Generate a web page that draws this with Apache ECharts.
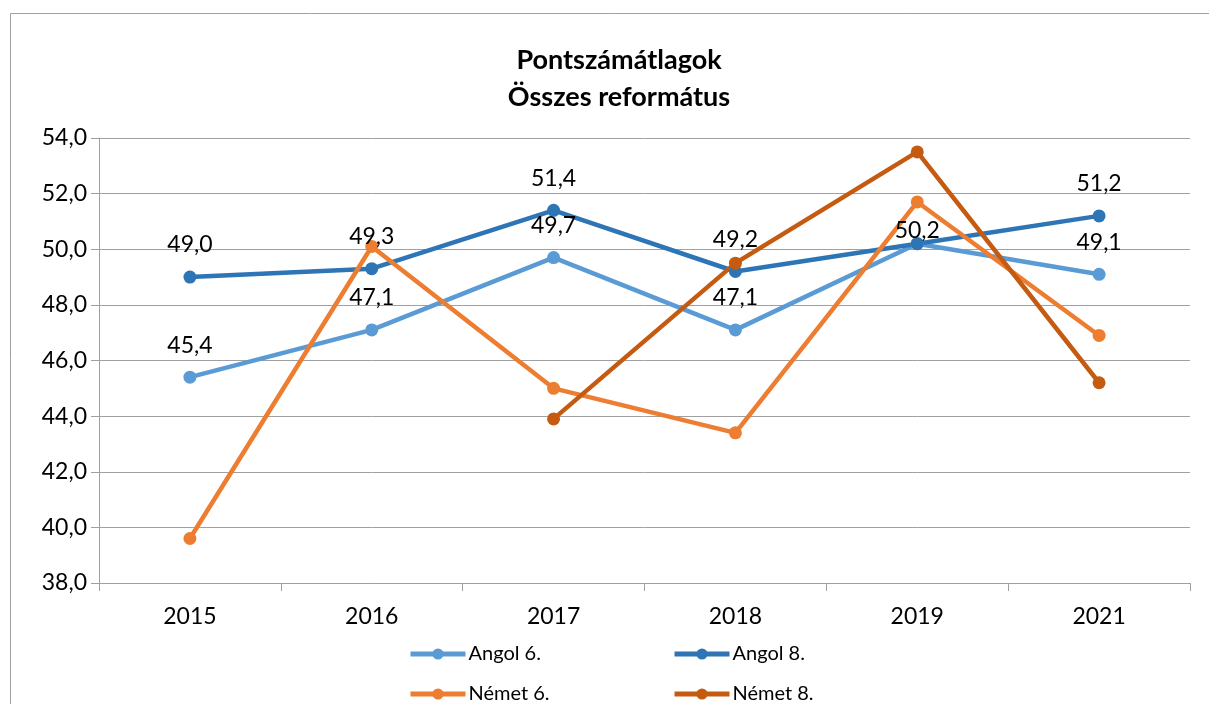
<!DOCTYPE html>
<html>
<head>
<meta charset="utf-8">
<script src="https://cdn.jsdelivr.net/npm/echarts@6/dist/echarts.min.js"></script>
<style>
  html, body { margin: 0; padding: 0; background: #fff; }
  #chart { width: 1209px; height: 704px; }
</style>
</head>
<body>
<div id="chart"></div>
<script>
// évek
var years = ['2015', '2016', '2017', '2018', '2019', '2021'];
// sorozatok
var angol6 = [45.4, 47.1, 49.7, 47.1, 50.2, 49.1];
var angol8 = [49.0, 49.3, 51.4, 49.2, 50.2, 51.2];
var nemet6 = [39.6, 50.1, 45.0, 43.4, 51.7, 46.9];
var nemet8 = ['-', '-', 43.9, 49.5, 53.5, 45.2];
var yTicks = [38, 40, 42, 44, 46, 48, 50, 52, 54];

var fontName = 'Lato, "Open Sans", sans-serif';

function fmt (v) {
  return Number(v).toFixed(1).replace('.', ',');
}

// adatcímkék: 2019-es pontnál csak egy felirat, lejjebb tolva
function labeled (values, hideIdx, shiftIdx) {
  return values.map(function (v, i) {
    if (i === hideIdx) return { value: v, label: { show: false } };
    if (i === shiftIdx) return { value: v, label: { offset: [0, 19] } };
    return v;
  });
}

function lineSeries (name, color, data, showLabel) {
  return {
    name: name,
    type: 'line',
    data: data,
    symbol: 'circle',
    symbolSize: 13,
    itemStyle: { color: color },
    lineStyle: { color: color, width: 4.5 },
    label: {
      show: showLabel,
      position: 'top',
      distance: 14,
      fontFamily: fontName,
      fontSize: 23,
      color: '#000',
      formatter: function (p) { return fmt(p.value); }
    },
    emphasis: { disabled: true },
    animation: false
  };
}

// jelmagyarázat elemenként, két sorban
function legendItem (name, left, top) {
  return {
    data: [name],
    left: left,
    top: top,
    padding: 0,
    itemWidth: 55,
    itemHeight: 14,
    itemGap: 0,
    lineStyle: { width: 5 },
    textStyle: { fontFamily: fontName, fontSize: 20, color: '#000', padding: [0, 0, 0, -2] }
  };
}

var chart = echarts.init(document.getElementById('chart'));

chart.setOption({
  title: {
    text: 'Pontszámátlagok\nÖsszes református',
    left: 619,
    top: 42,
    padding: 0,
    textAlign: 'center',
    textStyle: {
      fontFamily: fontName,
      fontWeight: 'bold',
      fontSize: 27,
      lineHeight: 37,
      color: '#000'
    }
  },
  graphic: [{
    type: 'rect',
    shape: { x: 10.5, y: 13.5, width: 1400, height: 900 },
    style: { fill: 'none', stroke: '#a0a0a0', lineWidth: 1 },
    silent: true
  }],
  legend: [
    legendItem('Angol 6.', 408, 644),
    legendItem('Angol 8.', 672, 644),
    legendItem('Német 6.', 408, 684),
    legendItem('Német 8.', 672, 684)
  ],
  grid: { left: 99, right: 19, top: 138, bottom: 121 },
  xAxis: {
    type: 'category',
    data: years,
    boundaryGap: true,
    axisLine: { lineStyle: { color: '#a0a0a0', width: 1 } },
    axisTick: { show: true, length: 8, inside: false, lineStyle: { color: '#a0a0a0' } },
    axisLabel: { fontFamily: fontName, fontSize: 23, color: '#000', margin: 22 }
  },
  yAxis: {
    type: 'value',
    min: yTicks[0],
    max: yTicks[yTicks.length - 1],
    interval: 2,
    axisLine: { show: true, lineStyle: { color: '#a0a0a0', width: 1 } },
    axisTick: { show: true, length: 8, lineStyle: { color: '#a0a0a0' } },
    axisLabel: {
      fontFamily: fontName,
      fontSize: 23,
      color: '#000',
      margin: 12,
      formatter: function (v) { return fmt(v); }
    },
    splitLine: { show: true, lineStyle: { color: '#a0a0a0', width: 1 } }
  },
  series: [
    lineSeries('Angol 6.', '#5B9BD5', labeled(angol6, 4, -1), true),
    lineSeries('Angol 8.', '#2E75B6', labeled(angol8, -1, 4), true),
    lineSeries('Német 6.', '#ED7D31', nemet6, false),
    lineSeries('Német 8.', '#C55A11', nemet8, false)
  ]
});
</script>
</body>
</html>
